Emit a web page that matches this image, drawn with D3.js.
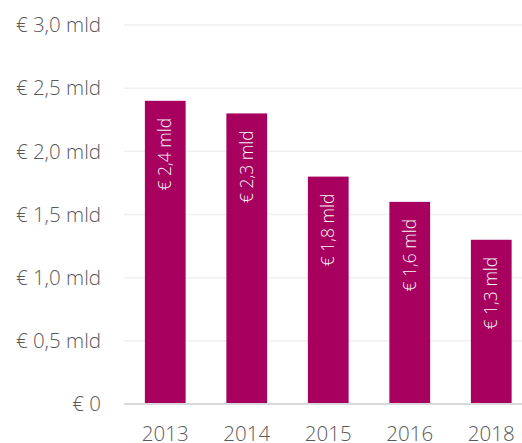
<!DOCTYPE html>
<meta charset="utf-8">
<style>
    body { margin: 0; background: #fff; }
    .grid line { stroke: #efefef; stroke-width: 1.5px; }
    .tick-label { font-family: "Open Sans", sans-serif; font-size: 20.5px; font-weight: 300; fill: #595959; }
    .bar-label { font-family: "Open Sans", sans-serif; font-size: 17.5px; font-weight: 300; fill: #f5f5f5; }
</style>
<svg width="522" height="443"></svg>
<script src="https://d3js.org/d3.v7.min.js"></script>
<script>
    var years = ["2013", "2014", "2015", "2016", "2018"];
    var values = [2.4, 2.3, 1.8, 1.6, 1.3];
    var yTicks = [0, 0.5, 1.0, 1.5, 2.0, 2.5, 3.0];

    var svg = d3.select("svg"),
        width = +svg.attr("width");

    function euro(v) {
        if (v === 0) return "€ 0";
        return "€ " + v.toFixed(1).replace(".", ",") + " mld";
    }

    var x = d3.scaleBand()
        .domain(years)
        .range([124.5, 532])
        .paddingInner(0.5)
        .paddingOuter(0.25);

    var y = d3.scaleLinear().domain([0, 3]).range([404, 25]);

    // gridlines
    svg.append("g").attr("class", "grid")
        .selectAll("line")
        .data(yTicks.filter(function (d) { return d > 0; }))
        .enter().append("line")
        .attr("x1", 124).attr("x2", width)
        .attr("y1", function (d) { return y(d); })
        .attr("y2", function (d) { return y(d); });

    // y tick labels
    svg.append("g")
        .selectAll("text")
        .data(yTicks)
        .enter().append("text")
        .attr("class", "tick-label")
        .attr("x", 101)
        .attr("y", function (d) { return y(d); })
        .attr("dy", "0.35em")
        .attr("text-anchor", "end")
        .text(euro);

    // bars
    svg.append("g")
        .selectAll("rect")
        .data(values)
        .enter().append("rect")
        .attr("x", function (d, i) { return x(years[i]); })
        .attr("y", function (d) { return y(d); })
        .attr("width", x.bandwidth())
        .attr("height", function (d) { return y(0) - y(d); })
        .attr("fill", "#a8005f");

    // baseline
    svg.append("line")
        .attr("x1", 124).attr("x2", width)
        .attr("y1", y(0)).attr("y2", y(0))
        .attr("stroke", "#d9d9d9")
        .attr("stroke-width", 2);

    // bar labels (rotated)
    svg.append("g")
        .selectAll("text")
        .data(values)
        .enter().append("text")
        .attr("class", "bar-label")
        .attr("text-anchor", "end")
        .attr("dy", "0.35em")
        .attr("transform", function (d, i) {
            var cx = x(years[i]) + x.bandwidth() / 2;
            return "translate(" + cx + "," + (y(d) + 17) + ") rotate(-90)";
        })
        .text(euro);

    // x labels
    svg.append("g")
        .selectAll("text")
        .data(years)
        .enter().append("text")
        .attr("class", "tick-label")
        .attr("x", function (d) { return x(d) + x.bandwidth() / 2; })
        .attr("y", 441)
        .attr("text-anchor", "middle")
        .text(function (d) { return d; });
</script>
